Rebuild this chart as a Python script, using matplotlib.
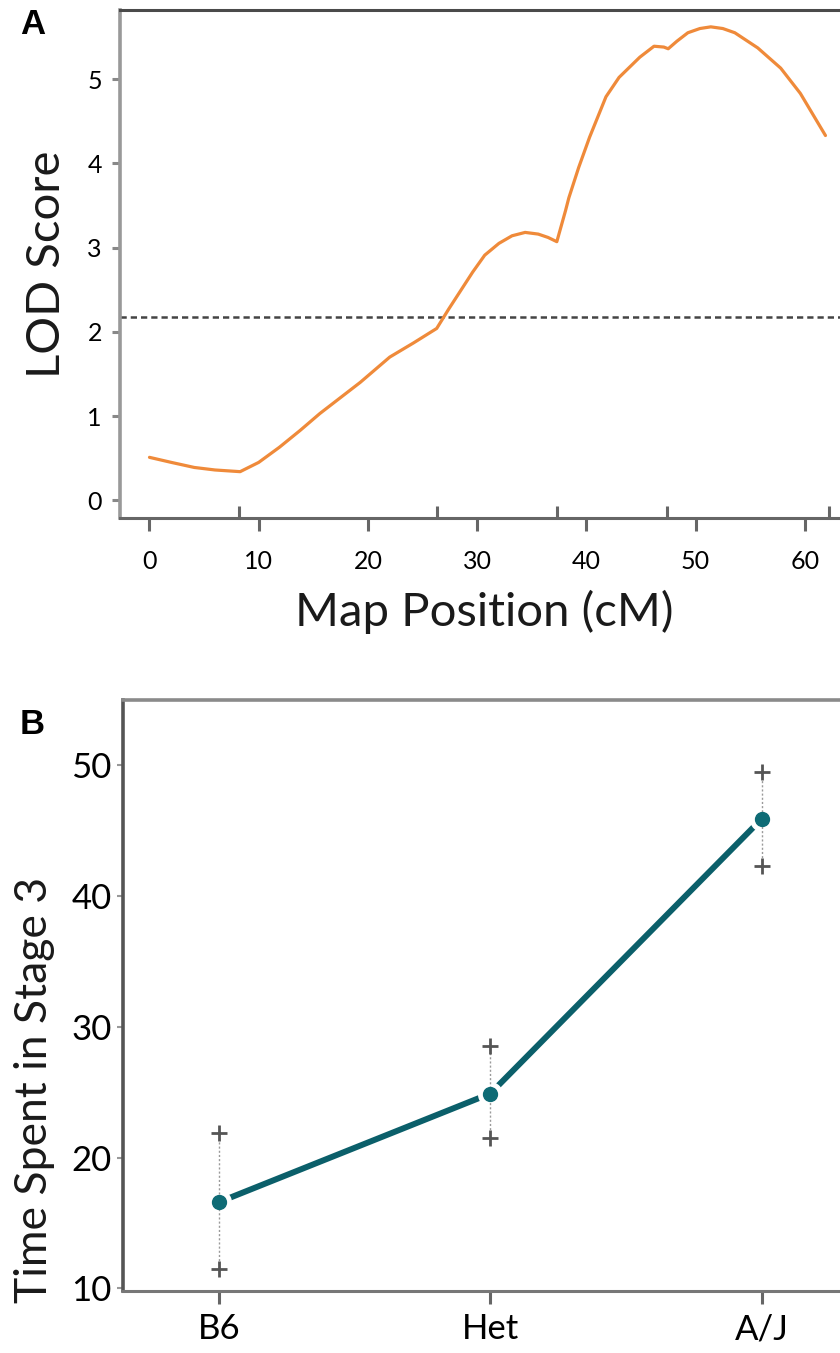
import numpy as np
import matplotlib
matplotlib.use("Agg")
import matplotlib.pyplot as plt

plt.rcParams['font.family'] = ['Lato', 'DejaVu Sans']

# Panel A: LOD curve (cM, LOD)
pos_cm = [0, 2.0, 4.1, 6.0, 8.3, 10.0, 11.9, 13.8, 15.6, 17.5, 19.3, 22.0, 24.2, 26.3,
          27.4, 28.5, 29.6, 30.7, 32.0, 33.2, 34.4, 35.6, 36.5, 37.3, 38.1, 38.4,
          39.3, 40.3, 41.8, 43.0, 44.9, 46.2, 47.1, 47.5, 48.3, 49.3, 50.4, 51.4,
          52.5, 53.6, 55.7, 57.8, 59.6, 61.9]
lod = [0.51, 0.45, 0.39, 0.36, 0.34, 0.45, 0.63, 0.83, 1.03, 1.22, 1.40, 1.70, 1.87, 2.04,
       2.27, 2.49, 2.71, 2.91, 3.05, 3.14, 3.18, 3.16, 3.12, 3.07, 3.44, 3.59,
       3.95, 4.31, 4.79, 5.02, 5.26, 5.39, 5.38, 5.36, 5.45, 5.55, 5.60, 5.62,
       5.60, 5.55, 5.37, 5.13, 4.83, 4.33]
markers_cm = [0, 8.2, 26.3, 37.3, 47.4, 62.2]
threshold = 2.17

# Panel B: genotype means with intervals
genotypes = ['B6', 'Het', 'A/J']
means = [16.6, 24.9, 45.9]
upper = [21.9, 28.5, 49.5]
lower = [11.5, 21.5, 42.3]

W, H = 840, 1353
fig = plt.figure(figsize=(W / 100, H / 100), dpi=100)

orange = '#ef8a3a'
teal = '#0b5f6a'
dark = '#4a4a4a'

# ---- Panel A ----
ax1 = fig.add_axes([120 / W, 1 - 518 / H, 1 - 120 / W + 0.01, (518 - 10) / H])
ax1.plot(pos_cm, lod, color=orange, lw=2.3, solid_capstyle='round', zorder=3)
ax1.axhline(threshold, color='#444444', lw=1.8, ls=(0, (2.5, 1.6)), zorder=2)
ax1.set_xlim(-2.7, 64.0)
ax1.set_ylim(-0.21, 5.82)
ax1.set_xticks(range(0, 61, 10))
ax1.set_yticks(range(0, 6))
ax1.set_xticks(markers_cm, minor=True)
ax1.tick_params(axis='x', which='major', direction='out', length=9, width=2.2,
                color='#666666', labelsize=18, pad=14)
ax1.tick_params(axis='x', which='minor', direction='in', length=9, width=2.2,
                color='#666666')
ax1.tick_params(axis='y', which='major', direction='out', length=6, width=2.2,
                color='#888888', labelsize=18, pad=7)
ax1.spines['right'].set_visible(False)
ax1.spines['top'].set_color(dark)
ax1.spines['top'].set_linewidth(2.2)
ax1.spines['left'].set_color('#999999')
ax1.spines['left'].set_linewidth(2.6)
ax1.spines['bottom'].set_color('#666666')
ax1.spines['bottom'].set_linewidth(2.2)
ax1.set_xlabel('Map Position (cM)', fontsize=34, labelpad=12, color='#1a1a1a')
ax1.set_ylabel('LOD Score', fontsize=34, labelpad=14, color='#1a1a1a')
fig.text(20 / W, 1 - 25 / H, 'A', fontsize=25, fontweight='bold',
         family='Liberation Sans', va='center', ha='left')

# ---- Panel B ----
ax2 = fig.add_axes([123 / W, 1 - 1291 / H, 1 - 123 / W + 0.01, (1291 - 700) / H])
xs = np.arange(len(genotypes))
ax2.plot(xs, means, color=teal, lw=4.3, zorder=2, solid_capstyle='butt')
ax2.plot(xs, means, 'o', ms=17, mfc='white', mec='white', zorder=3)
for x, lo, hi in zip(xs, lower, upper):
    ax2.plot([x, x], [lo, hi], color='#9a9a9a', lw=1.0, ls=(0, (1.5, 1.5)), zorder=4)
ax2.plot(xs, upper, '+', ms=11, mew=2.0, color='#555555', zorder=4)
ax2.plot(xs, lower, '+', ms=11, mew=2.0, color='#555555', zorder=4)
ax2.plot(xs, means, 'o', ms=10, color='#0e6b75', mec='#0e6b75', zorder=5)
ax2.set_xlim(-0.354, 2.32)
ax2.set_ylim(9.8, 55)
ax2.set_xticks(xs)
ax2.set_xticklabels(genotypes)
ax2.set_yticks([10, 20, 30, 40, 50])
ax2.tick_params(axis='x', direction='out', length=9, width=2.2, color='#666666',
                labelsize=25, pad=7)
ax2.tick_params(axis='y', direction='out', length=4, width=1.5, color='#999999',
                labelsize=25, pad=4)
ax2.spines['right'].set_visible(False)
ax2.spines['top'].set_color('#8a8a8a')
ax2.spines['top'].set_linewidth(2.6)
ax2.spines['left'].set_color('#555555')
ax2.spines['left'].set_linewidth(2.6)
ax2.spines['bottom'].set_color('#777777')
ax2.spines['bottom'].set_linewidth(2.2)
ax2.set_ylabel('Time Spent in Stage 3', fontsize=32, color='#1a1a1a')
ax2.yaxis.set_label_coords(-0.094, 0.34)
fig.text(20 / W, 1 - 725 / H, 'B', fontsize=25, fontweight='bold',
         family='Liberation Sans', va='center', ha='left')

fig.savefig('out.png', dpi=100)
